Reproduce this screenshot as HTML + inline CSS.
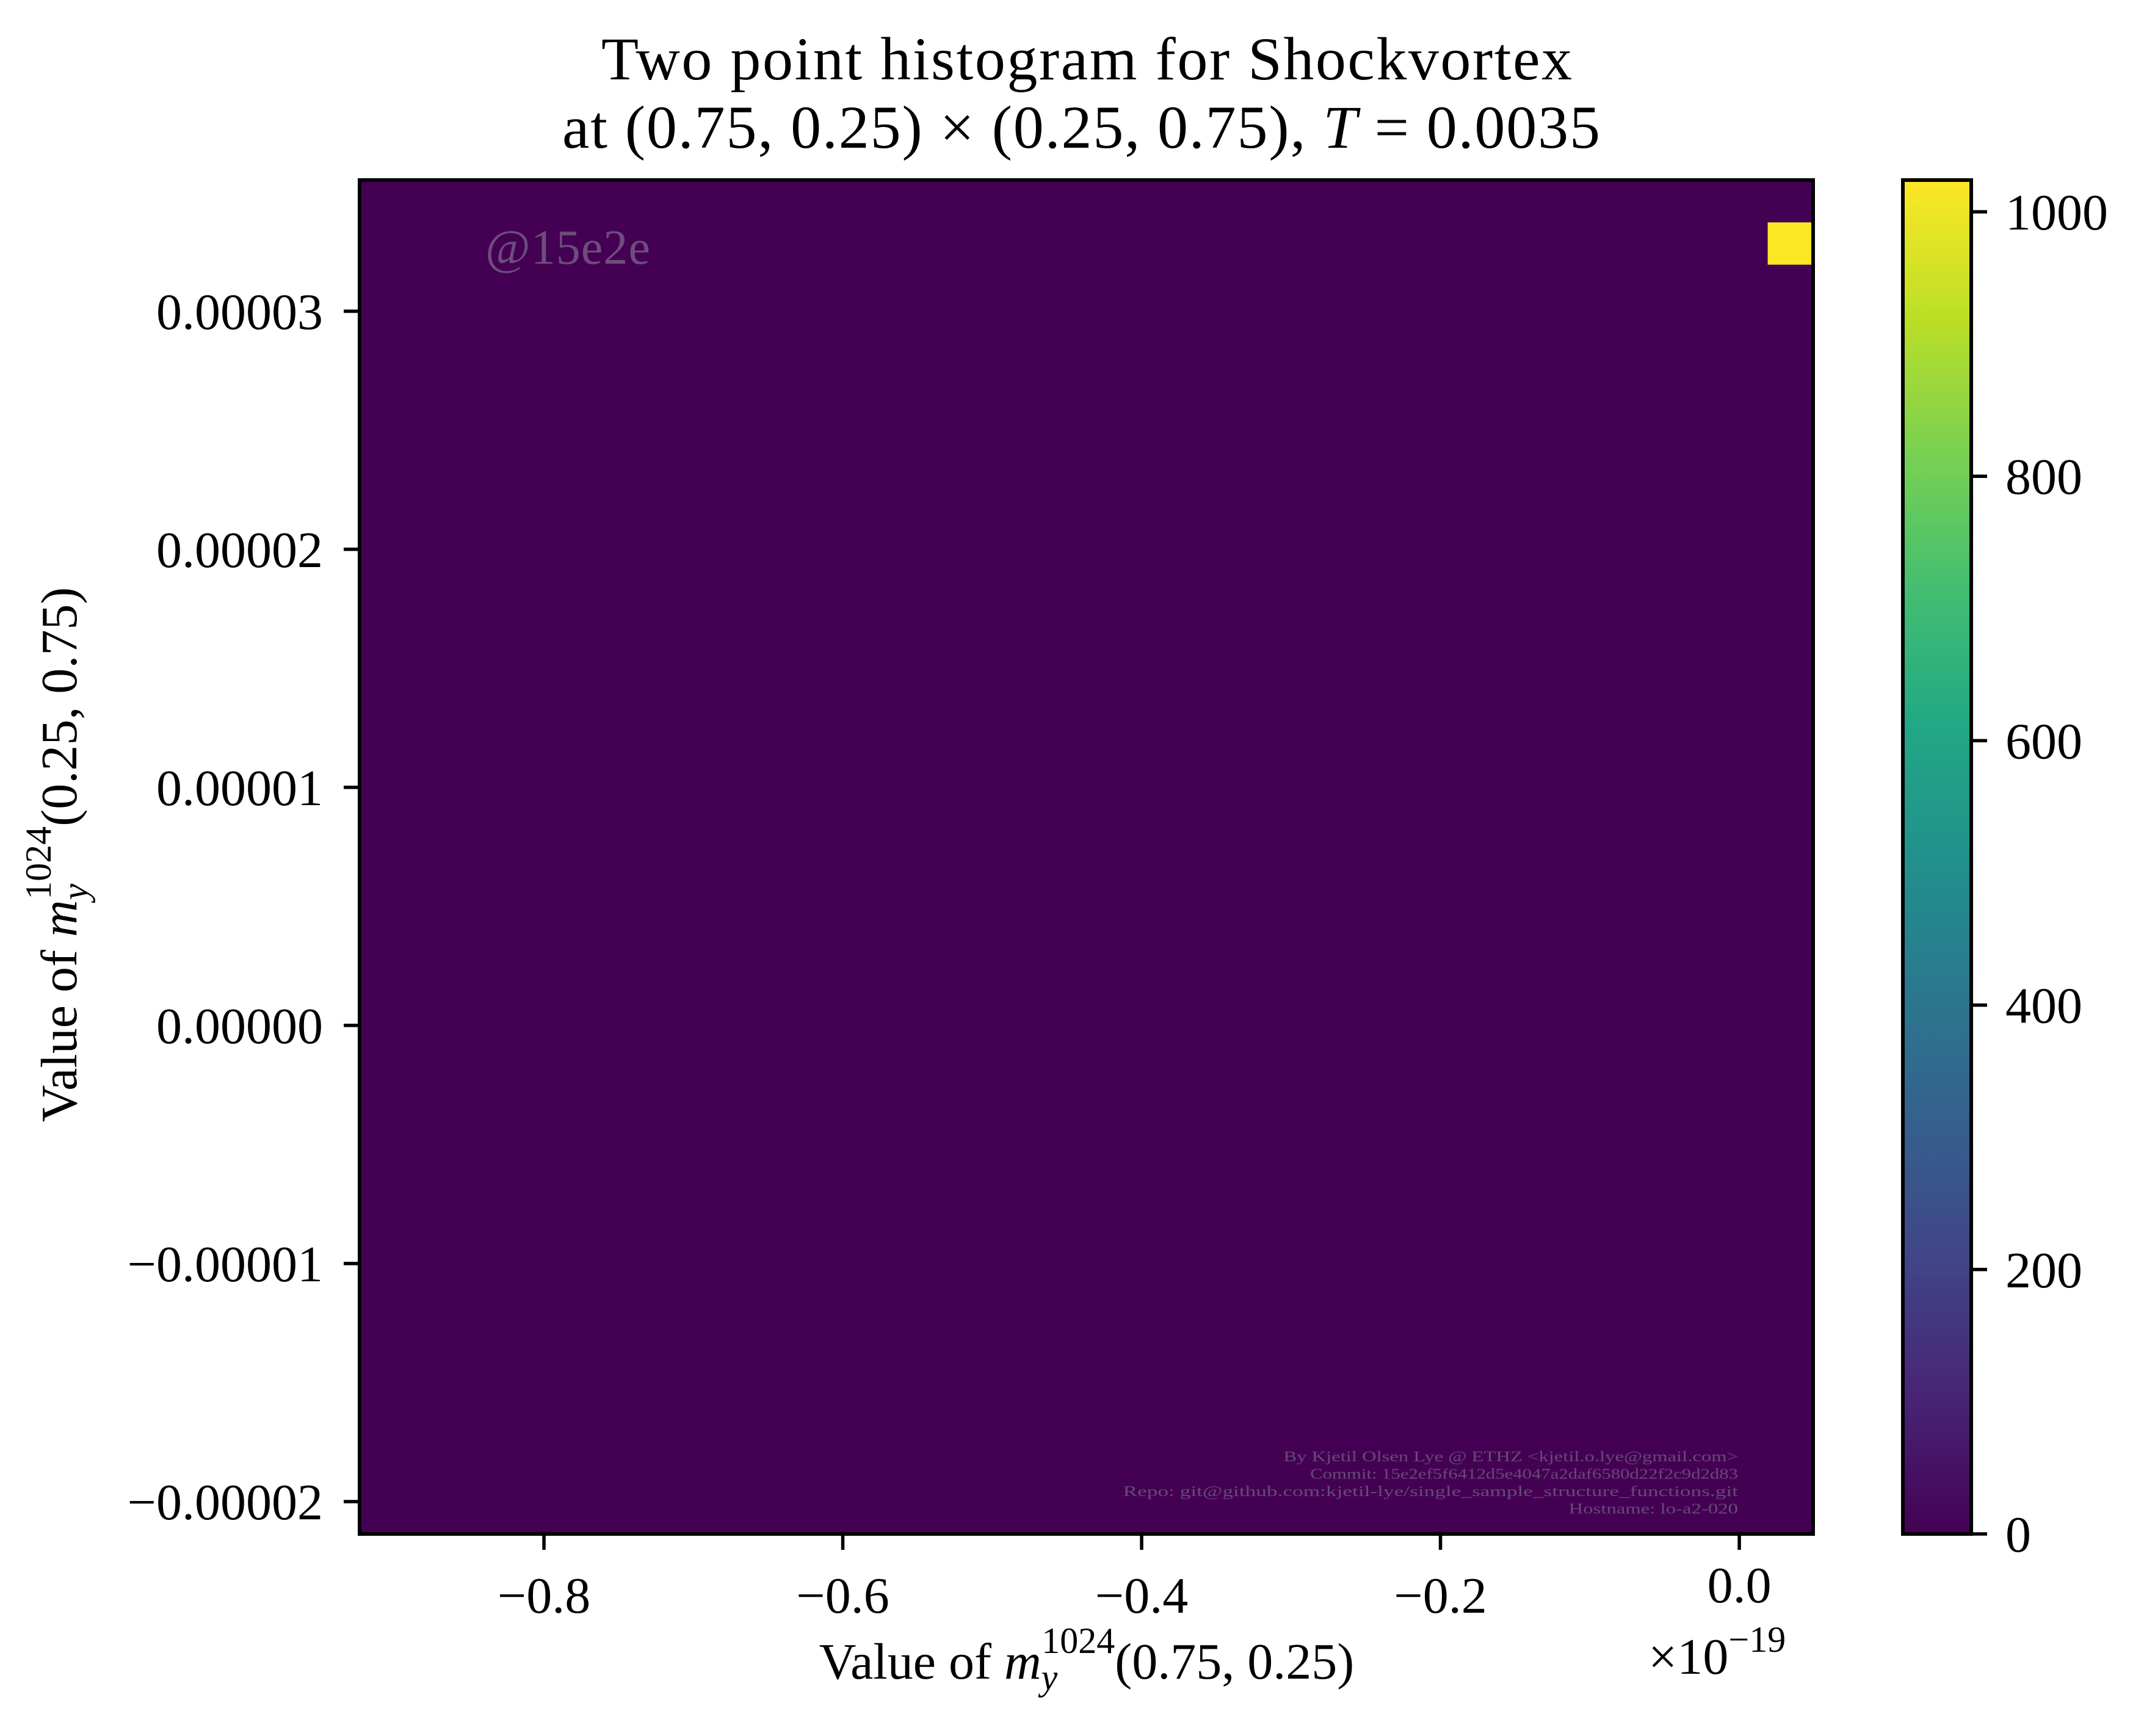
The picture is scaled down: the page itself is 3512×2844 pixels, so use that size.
<!DOCTYPE html>
<html><head><meta charset="utf-8"><style>
html,body{margin:0;padding:0;background:#fff;}
svg{display:block;font-family:"Liberation Serif",serif;}
</style></head><body>
<svg id="chart" width="3512" height="2844" viewBox="0 0 3512 2844" xmlns="http://www.w3.org/2000/svg">
<defs>
<linearGradient id="viridis" x1="0" y1="1" x2="0" y2="0">
<stop offset="0" stop-color="#440154"/><stop offset="0.1" stop-color="#482475"/><stop offset="0.2" stop-color="#414487"/><stop offset="0.3" stop-color="#355f8d"/><stop offset="0.4" stop-color="#2a788e"/><stop offset="0.5" stop-color="#21918c"/><stop offset="0.6" stop-color="#22a884"/><stop offset="0.7" stop-color="#44bf70"/><stop offset="0.8" stop-color="#7ad151"/><stop offset="0.9" stop-color="#bddf26"/><stop offset="1" stop-color="#fde725"/>
</linearGradient>
</defs>
<text x="1780" y="130" font-size="100" text-anchor="middle" textLength="1590">Two point histogram for Shockvortex</text>
<text x="1771" y="242" font-size="100" text-anchor="middle" textLength="1700">at (0.75, 0.25) × (0.25, 0.75), <tspan font-style="italic">T</tspan> = 0.0035</text>
<g id="plot"></g>
<g id="cbar"></g>
<text x="1780" y="2750" font-size="84" text-anchor="middle">Value of <tspan font-style="italic">m</tspan><tspan font-size="60" font-style="italic" dy="18">y</tspan><tspan font-size="60" dx="-26" dy="-60">1024</tspan><tspan dy="42">(0.75, 0.25)</tspan></text>
<text transform="translate(125,1400) rotate(-90)" font-size="84" text-anchor="middle">Value of <tspan font-style="italic">m</tspan><tspan font-size="60" font-style="italic" dy="18">y</tspan><tspan font-size="60" dx="-26" dy="-60">1024</tspan><tspan dy="42">(0.25, 0.75)</tspan></text>
<text x="2700" y="2742" font-size="84">×10<tspan font-size="60" dy="-36">−19</tspan></text>
</svg>
<script>
const xMin = -0.9234, xMax = 0.0494;
const yMin = -2.136e-5, yMax = 3.551e-5;
const nBins = 32;
const xTicks = [-0.8, -0.6, -0.4, -0.2, 0.0];
const xTickLabels = ["−0.8", "−0.6", "−0.4", "−0.2", "0.0"];
const yTicks = [-2e-5, -1e-5, 0, 1e-5, 2e-5, 3e-5];
const yTickLabels = ["−0.00002", "−0.00001", "0.00000", "0.00001", "0.00002", "0.00003"];
const cellCols = [31];
const cellRows = [30];
const cellCounts = [1024];
const cMax = 1024;
const cTicks = [0, 200, 400, 600, 800, 1000];
const cTickLabels = ["0", "200", "400", "600", "800", "1000"];

const NS = "http://www.w3.org/2000/svg";
const L = 589, R = 2970, T = 295, B = 2513;
const CL = 3117, CR = 3229;
const sx = v => L + (v - xMin) / (xMax - xMin) * (R - L);
const sy = v => B - (v - yMin) / (yMax - yMin) * (B - T);
const sc = v => B - v / cMax * (B - T);
function mk(tag, attrs, parent) { const e = document.createElementNS(NS, tag); for (const k in attrs) e.setAttribute(k, attrs[k]); parent.appendChild(e); return e; }
function viridis(t) {
  const s = ["#440154","#482475","#414487","#355f8d","#2a788e","#21918c","#22a884","#44bf70","#7ad151","#bddf26","#fde725"];
  return s[Math.round(Math.max(0, Math.min(1, t)) * 10)];
}
const plot = document.getElementById('plot');
const bg = mk('rect', {x: L, y: T, width: R - L, height: B - T, fill: '#440154'}, plot);


const bw = (xMax - xMin) / nBins, bh = (yMax - yMin) / nBins;
cellCols.forEach((c, i) => {
  const x0 = xMin + c * bw, x1 = x0 + bw, y0 = yMin + cellRows[i] * bh, y1 = y0 + bh;
  const r = mk('rect', {x: sx(x0), y: sy(y1), width: sx(x1) - sx(x0), height: sy(y0) - sy(y1), fill: viridis(cellCounts[i] / cMax)}, plot);
  
  
});
const wm = mk('text', {x: 795, y: 432, 'font-size': 80, fill: '#6d4d7d', textLength: 270}, plot);
wm.textContent = '@15e2e';


const foot = ["By Kjetil Olsen Lye @ ETHZ <kjetil.o.lye@gmail.com>", "Commit: 15e2ef5f6412d5e4047a2daf6580d22f2c9d2d83", "Repo: git@github.com:kjetil-lye/single_sample_structure_functions.git", "Hostname: lo-a2-020"];
foot.forEach((s, i) => {
  const t = mk('text', {x: 2847, y: 2394 + i * 28.5, 'font-size': 24, fill: '#664a74', 'text-anchor': 'end', textLength: s.length * 14.6, lengthAdjust: 'spacingAndGlyphs'}, plot);
  t.textContent = s;
  
  
});
const fr = mk('rect', {x: L, y: T, width: R - L, height: B - T, fill: 'none', stroke: '#000', 'stroke-width': 6}, plot);


xTicks.forEach((v, i) => {
  const x = sx(v);
  const tk = mk('line', {x1: x, x2: x, y1: B, y2: B + 26, stroke: '#000', 'stroke-width': 5.5}, plot);
  
  
  const t = mk('text', {x: x, y: v === 0 ? 2625 : 2642, 'font-size': 84, 'text-anchor': 'middle'}, plot);
  t.textContent = xTickLabels[i];
  
  
});
yTicks.forEach((v, i) => {
  const y = sy(v);
  const tk = mk('line', {x1: L - 26, x2: L, y1: y, y2: y, stroke: '#000', 'stroke-width': 5.5}, plot);
  
  
  const t = mk('text', {x: 529, y: y + 29, 'font-size': 84, 'text-anchor': 'end'}, plot);
  t.textContent = yTickLabels[i];
  
  
});
const cb = document.getElementById('cbar');
const cr = mk('rect', {x: CL, y: T, width: CR - CL, height: B - T, fill: 'url(#viridis)', stroke: '#000', 'stroke-width': 6}, cb);


cTicks.forEach((v, i) => {
  const y = sc(v);
  const tk = mk('line', {x1: CR, x2: CR + 26, y1: y, y2: y, stroke: '#000', 'stroke-width': 5.5}, cb);
  
  
  const t = mk('text', {x: 3285, y: y + 29, 'font-size': 84}, cb);
  t.textContent = cTickLabels[i];
  
  
});
</script>
</body></html>
